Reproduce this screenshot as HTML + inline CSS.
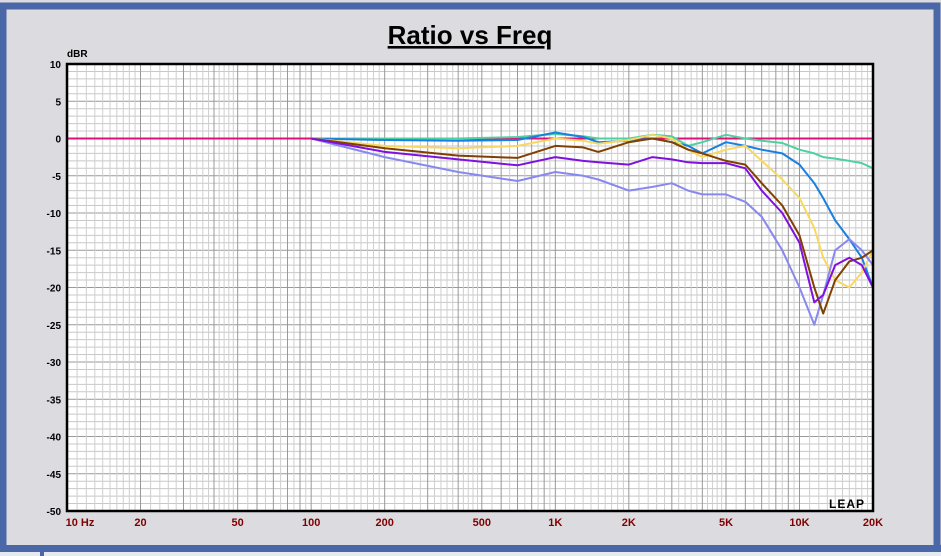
<!DOCTYPE html>
<html><head><meta charset="utf-8"><style>
html,body{margin:0;padding:0;width:941px;height:556px;overflow:hidden;background:#dcdce0;}
svg{display:block;font-family:"Liberation Sans",Arial,sans-serif;}
</style></head><body>
<svg id="chart" width="941" height="556">
  <rect x="0" y="0" width="941" height="556" fill="#dcdce0"/>
  <path d="M3,556 V6 H937 V546" fill="none" stroke="#4a68a8" stroke-width="7"/>
  <rect x="0" y="545" width="941" height="7" fill="#4a68a8"/>
  <rect x="0" y="552" width="941" height="4" fill="#e6eaee"/>
  <rect x="40" y="550" width="4" height="6" fill="#4a68a8"/>
  <text x="470" y="44" text-anchor="middle" font-size="26" font-weight="bold" text-decoration="underline" fill="#000">Ratio vs Freq</text>
  <text x="67" y="57" font-size="10" font-weight="bold" fill="#000">dBR</text>
  <rect x="67" y="64" width="806" height="447" fill="#fff"/>
  <g id="grid"></g>
  <g id="series"></g>
  <rect x="67" y="64" width="806" height="447" fill="none" stroke="#000" stroke-width="2.5"/>
  <g id="ticks"></g>
  <text x="847" y="508" text-anchor="middle" font-size="12" font-weight="bold" fill="#000" letter-spacing="1">LEAP</text>
</svg>
<script>
const freqs = [100,200,400,700,1000,1300,1500,2000,2500,3000,3500,4000,5000,6000,7000,8500,10000,11500,12500,14000,16000,18000,20000];
const teal   = [0,0,0,0.2,0.6,0.3,0,0,0.5,0.3,-1,-0.5,0.5,0,-0.3,-0.6,-1.5,-2,-2.5,-2.7,-3,-3.3,-4];
const blue   = [0,-0.2,-0.3,-0.2,0.8,0.2,-0.5,-0.3,0,-0.5,-1,-2,-0.5,-1,-1.5,-2,-3.5,-6,-8,-11,-13.5,-16,-20];
const yellow = [0,-1,-1.3,-1,0,-0.3,-0.7,-0.2,0.5,0,-1.5,-2.5,-1.5,-1,-3,-5.5,-8,-12,-16,-19,-20,-18,-15];
const brown  = [0,-1.3,-2.3,-2.6,-1,-1.2,-1.8,-0.5,0,-0.5,-1.5,-2,-3,-3.5,-6,-9,-13,-20,-23.5,-19,-16.5,-16,-15];
const purple = [0,-1.8,-2.8,-3.6,-2.5,-3,-3.2,-3.5,-2.5,-2.8,-3.2,-3.3,-3.3,-4,-7,-10,-14,-22,-21,-17,-16,-17,-20];
const lilac  = [0,-2.5,-4.5,-5.7,-4.5,-5,-5.5,-7,-6.5,-6,-7,-7.5,-7.5,-8.5,-10.5,-15,-20,-25,-21,-15,-13.5,-15,-17];
const xTickValues = [10,20,50,100,200,500,1000,2000,5000,10000,20000];
const xTickLabels = ["10 Hz","20","50","100","200","500","1K","2K","5K","10K","20K"];
const yTickValues = [10,5,0,-5,-10,-15,-20,-25,-30,-35,-40,-45,-50];

const NS="http://www.w3.org/2000/svg";
const X0=67,X1=873,Y0=64,Y1=511;
function xScale(f){return X0+(Math.log10(f)-1)/(Math.log10(20000)-1)*(X1-X0);}
function yScale(d){return Y0+(10-d)/60*(Y1-Y0);}
const grid=document.getElementById('grid');
for(let d=-50;d<=10;d++){
  const l=document.createElementNS(NS,'line');
  
  
  const y=yScale(d);
  l.setAttribute('x1',X0);l.setAttribute('x2',X1);l.setAttribute('y1',y);l.setAttribute('y2',y);
  l.setAttribute('stroke',d%5===0?'#999':'#c8c8c8');l.setAttribute('stroke-width','1');
  grid.appendChild(l);
}
for(let dec=10;dec<20000;dec*=10){
  for(let m=1;m<10;m+=(m<2?0.1:(m<5?0.2:0.5))){
    const f=dec*m; if(f>20000) break;
    const l=document.createElementNS(NS,'line');
    
    
    const x=xScale(f);
    l.setAttribute('x1',x);l.setAttribute('x2',x);l.setAttribute('y1',Y0);l.setAttribute('y2',Y1);
    const major=Math.abs(m-Math.round(m))<1e-6;
    l.setAttribute('stroke',major?'#999':'#cfcfcf');l.setAttribute('stroke-width','1');
    grid.appendChild(l);
  }
}
const ticks=document.getElementById('ticks');
xTickValues.forEach((v,i)=>{
  const t=document.createElementNS(NS,'text');
  
  
  t.setAttribute('x',xScale(v)+(i===0?13:0));t.setAttribute('y',526);
  t.setAttribute('text-anchor','middle');t.setAttribute('font-size','11');t.setAttribute('font-weight','bold');t.setAttribute('fill','#800000');
  t.textContent=xTickLabels[i];ticks.appendChild(t);
});
yTickValues.forEach(v=>{
  const t=document.createElementNS(NS,'text');
  
  
  t.setAttribute('x',61);t.setAttribute('y',yScale(v)+4);
  t.setAttribute('text-anchor','end');t.setAttribute('font-size','10');t.setAttribute('font-weight','bold');t.setAttribute('fill','#000');
  t.textContent=String(v);ticks.appendChild(t);
});
const sg=document.getElementById('series');
const zero=document.createElementNS(NS,'line');


zero.setAttribute('x1',X0);zero.setAttribute('x2',X1);zero.setAttribute('y1',yScale(0));zero.setAttribute('y2',yScale(0));
zero.setAttribute('stroke','#e0107a');zero.setAttribute('stroke-width','2');
sg.appendChild(zero);
const series=[['series-teal',teal,'#50d0a0'],['series-blue',blue,'#1a80e0'],['series-yellow',yellow,'#f8d860'],['series-lilac',lilac,'#8888f0'],['series-brown',brown,'#804000'],['series-purple',purple,'#8010e0']];
series.forEach(s=>{
  const p=document.createElementNS(NS,'polyline');
  
  
  p.setAttribute('points',freqs.map((f,i)=>xScale(f).toFixed(1)+','+yScale(s[1][i]).toFixed(1)).join(' '));
  p.setAttribute('fill','none');p.setAttribute('stroke',s[2]);p.setAttribute('stroke-width','2');p.setAttribute('stroke-linejoin','round');
  sg.appendChild(p);
});
</script>
</body></html>
